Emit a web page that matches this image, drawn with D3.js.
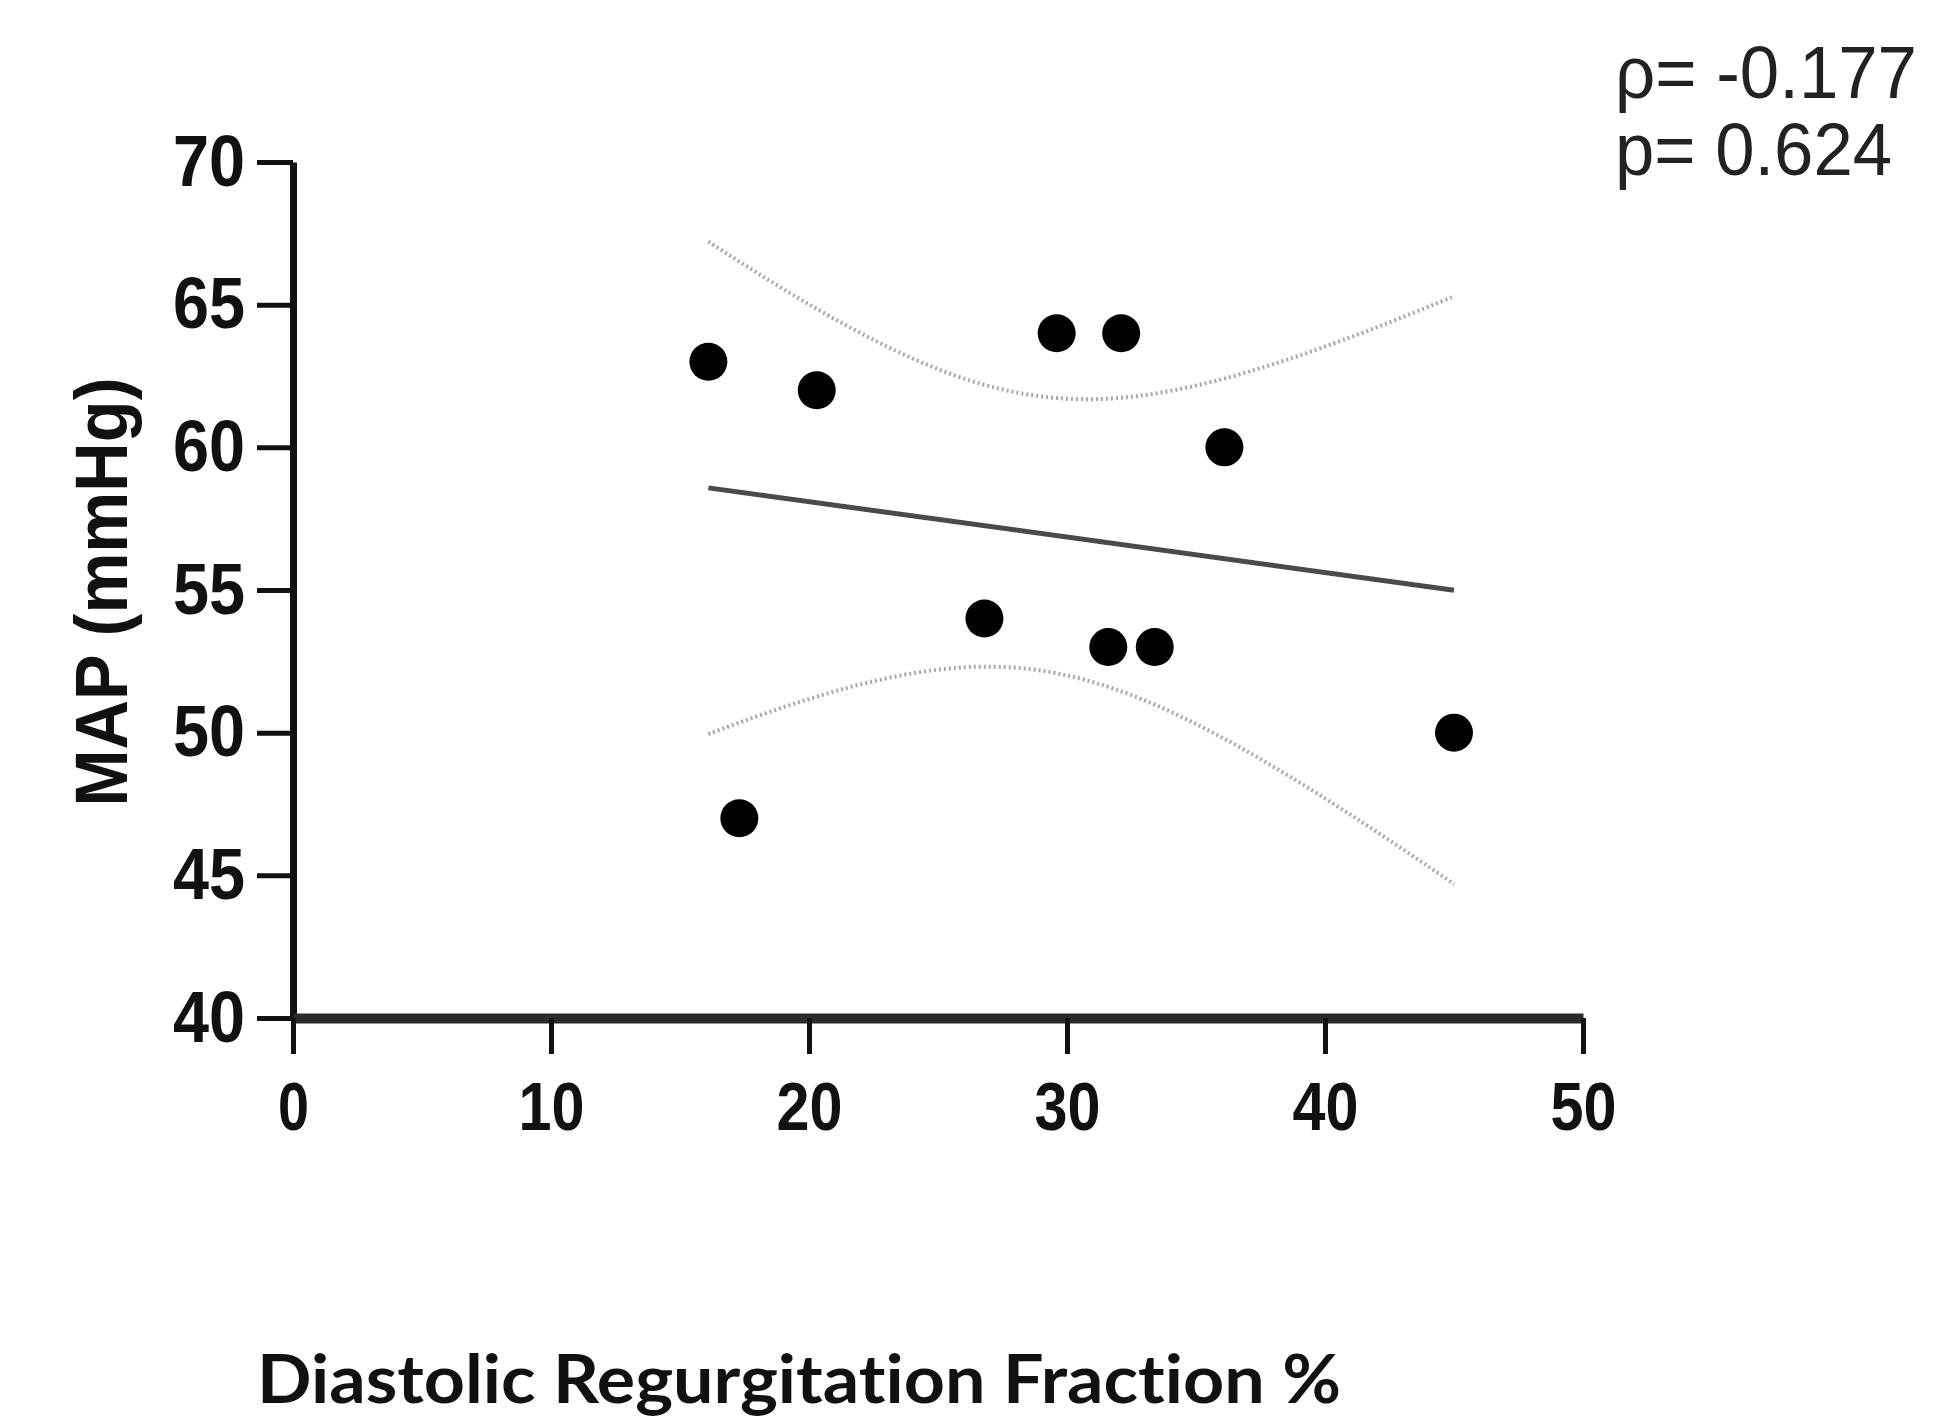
<!DOCTYPE html>
<html>
<head>
<meta charset="utf-8">
<script src="https://cdn.jsdelivr.net/npm/d3@7"></script>
<style>
  body { margin: 0; background: #fff; }
  svg { display: block; }
  text { font-variant-ligatures: none; font-feature-settings: "liga" 0; }
</style>
</head>
<body>
<div id="chart"></div>
<script>
// data
var regurgFraction = [16.1, 17.3, 20.3, 26.8, 29.6, 32.1, 31.6, 33.4, 36.1, 45.0];
var mapValues = [63, 47, 62, 54, 64, 64, 53, 53, 60, 50];
var xTicks = [0, 10, 20, 30, 40, 50];
var yTicks = [40, 45, 50, 55, 60, 65, 70];
var statLines = ["ρ= -0.177", "p= 0.624"];

var width = 1936, height = 1418;

var svg = d3.select("#chart").append("svg")
  .attr("width", width)
  .attr("height", height);

var x = d3.scaleLinear().domain([0, 50]).range([293, 1583]);
var y = d3.scaleLinear().domain([40, 70]).range([1018, 162]);

var points = regurgFraction.map((d, i) => ({x: d, y: mapValues[i]}));

// linear regression + 95% confidence band
var n = points.length;
var mx = d3.mean(points, d => d.x);
var my = d3.mean(points, d => d.y);
var sxx = d3.sum(points, d => (d.x - mx) * (d.x - mx));
var sxy = d3.sum(points, d => (d.x - mx) * (d.y - my));
var slope = sxy / sxx;
var icpt = my - slope * mx;
var sse = d3.sum(points, d => Math.pow(d.y - (icpt + slope * d.x), 2));
var s = Math.sqrt(sse / (n - 2));
var tCrit = 2.306; // t(0.975, df = 8)

var xMin = d3.min(regurgFraction), xMax = d3.max(regurgFraction);
var band = d3.range(0, 61).map(i => {
  var xv = xMin + (xMax - xMin) * i / 60;
  var fit = icpt + slope * xv;
  var hw = tCrit * s * Math.sqrt(1 / n + (xv - mx) * (xv - mx) / sxx);
  return {x: xv, lo: fit - hw, hi: fit + hw};
});

var bandLine = key => d3.line().x(d => x(d.x)).y(d => y(d[key])).curve(d3.curveBasis);

["hi", "lo"].forEach(k => {
  svg.append("path")
    .datum(band)
    .attr("d", bandLine(k))
    .attr("fill", "none")
    .attr("stroke", "#a8a8a8")
    .attr("stroke-width", 4)
    .attr("stroke-dasharray", "2,3");
});

svg.append("line")
  .attr("x1", x(xMin)).attr("y1", y(icpt + slope * xMin))
  .attr("x2", x(xMax)).attr("y2", y(icpt + slope * xMax))
  .attr("stroke", "#4a4a4a")
  .attr("stroke-width", 5);

// axes
var yAxis = svg.append("g")
  .attr("transform", "translate(293,0)")
  .call(d3.axisLeft(y).tickValues(yTicks).tickSize(36).tickSizeOuter(0).tickPadding(12));

var xAxis = svg.append("g")
  .attr("transform", "translate(0,1018)")
  .call(d3.axisBottom(x).tickValues(xTicks).tickSize(36).tickSizeOuter(0).tickPadding(28));

yAxis.select(".domain").attr("stroke", "#111").attr("stroke-width", 7);
xAxis.select(".domain").attr("stroke", "#2b2b2b").attr("stroke-width", 10);
svg.selectAll(".tick line").attr("stroke", "#111").attr("stroke-width", 5);

yAxis.selectAll(".tick text")
  .attr("font-family", "Liberation Sans, Arial, sans-serif")
  .attr("font-weight", "bold")
  .attr("font-size", 72)
  .attr("fill", "#111")
  .attr("textLength", 72)
  .attr("lengthAdjust", "spacingAndGlyphs");

xAxis.selectAll(".tick text")
  .attr("font-family", "Liberation Sans, Arial, sans-serif")
  .attr("font-weight", "bold")
  .attr("font-size", 68)
  .attr("fill", "#111")
  .attr("textLength", d => d === 0 ? 31 : 66)
  .attr("lengthAdjust", "spacingAndGlyphs");

// points
svg.append("g").selectAll("circle")
  .data(points)
  .enter()
  .append("circle")
  .attr("cx", d => x(d.x))
  .attr("cy", d => y(d.y))
  .attr("r", 19)
  .attr("fill", "#000");

// axis titles
svg.append("text")
  .attr("transform", "translate(127,592) rotate(-90)")
  .attr("text-anchor", "middle")
  .attr("font-family", "Liberation Sans, Arial, sans-serif")
  .attr("font-weight", "bold")
  .attr("font-size", 74)
  .attr("fill", "#111")
  .attr("textLength", 429)
  .attr("lengthAdjust", "spacingAndGlyphs")
  .text("MAP (mmHg)");

svg.append("text")
  .attr("x", 257)
  .attr("y", 1403)
  .attr("font-family", "Lato, 'Open Sans', sans-serif")
  .attr("font-weight", "bold")
  .attr("font-size", 66)
  .attr("fill", "#111")
  .attr("textLength", 1084)
  .attr("lengthAdjust", "spacingAndGlyphs")
  .text("Diastolic Regurgitation Fraction %");

// correlation stats
svg.selectAll(".stat")
  .data(statLines)
  .enter()
  .append("text")
  .attr("class", "stat")
  .attr("x", 1615)
  .attr("y", (d, i) => 98 + i * 77)
  .attr("font-family", "Liberation Sans, Arial, sans-serif")
  .attr("font-size", 74)
  .attr("fill", "#222")
  .attr("textLength", (d, i) => i === 0 ? 302 : 277)
  .attr("lengthAdjust", "spacingAndGlyphs")
  .text(d => d);
</script>
</body>
</html>
